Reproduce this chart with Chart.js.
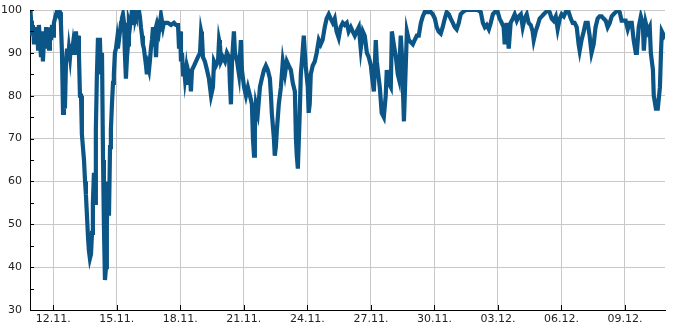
<!DOCTYPE html>
<html>
<head>
<meta charset="utf-8"/>
<style>
  html,body{margin:0;padding:0;background:#fff;}
  .wrap{width:685px;height:330px;}
</style>
</head>
<body>
<div class="wrap"><canvas id="c"></canvas></div>
<script src="https://cdn.jsdelivr.net/npm/chart.js@4.4.0/dist/chart.umd.min.js"></script>
<script>
// x in days since 12.11. 00:00
const days = [
  -1.10,-1.05,-1.01,-0.96,-0.91,-0.86,-0.82,-0.77,-0.72,-0.68,-0.63,-0.58,-0.53,-0.49,-0.44,-0.39,-0.34,-0.30,-0.25,-0.20,
  -0.16,-0.11,-0.06,-0.01,0.03,0.08,0.13,0.17,0.22,0.27,0.32,0.36,0.41,0.46,0.50,0.55,0.60,0.65,0.69,0.74,
  0.79,0.84,0.88,0.93,0.98,1.02,1.07,1.12,1.17,1.21,1.26,1.31,1.35,1.40,1.45,1.50,1.54,1.59,1.64,1.68,
  1.73,1.78,1.83,1.87,1.92,1.97,2.01,2.06,2.11,2.16,2.20,2.25,2.30,2.35,2.39,2.44,2.49,2.53,2.58,2.63,
  2.68,2.72,2.77,2.82,2.86,2.91,2.96,3.01,3.05,3.10,3.15,3.20,3.24,3.29,3.34,3.38,3.43,3.48,3.53,3.57,
  3.62,3.67,3.72,3.76,3.81,3.86,3.90,3.95,4.00,4.04,4.09,4.14,4.19,4.23,4.28,4.33,4.38,4.42,4.47,4.52,
  4.56,4.61,4.66,4.71,4.75,4.80,4.85,4.89,4.94,4.99,5.04,5.08,5.13,5.18,5.22,5.27,5.41,5.56,5.70,5.79,
  5.89,5.94,5.99,6.03,6.08,6.13,6.17,6.22,6.27,6.32,6.36,6.46,6.50,6.55,6.65,6.74,6.83,6.93,6.98,7.02,
  7.07,7.16,7.26,7.35,7.45,7.54,7.59,7.68,7.78,7.83,7.87,7.92,8.01,8.11,8.20,8.30,8.34,8.39,8.44,8.53,
  8.58,8.68,8.77,8.86,8.91,9.01,9.10,9.19,9.29,9.38,9.43,9.48,9.52,9.57,9.66,9.76,9.85,9.95,10.04,10.13,
  10.23,10.28,10.32,10.42,10.46,10.51,10.56,10.65,10.75,10.84,10.94,11.03,11.12,11.22,11.31,11.41,11.46,11.50,11.55,11.64,
  11.69,11.74,11.83,11.88,11.92,12.02,12.06,12.11,12.16,12.25,12.35,12.44,12.54,12.63,12.72,12.82,12.91,13.01,13.10,13.20,
  13.29,13.38,13.48,13.57,13.67,13.76,13.86,13.95,14.05,14.14,14.24,14.33,14.43,14.52,14.62,14.71,14.81,14.90,15.00,15.04,
  15.14,15.23,15.28,15.37,15.42,15.51,15.61,15.70,15.75,15.84,15.94,15.99,16.08,16.18,16.27,16.32,16.41,16.46,16.56,16.60,
  16.70,16.79,16.88,16.98,17.07,17.17,17.26,17.36,17.45,17.54,17.69,17.83,17.92,18.02,18.11,18.20,18.30,18.39,18.49,18.58,
  18.68,18.77,18.87,18.96,19.05,19.15,19.24,19.34,19.48,19.67,19.86,20.05,20.19,20.29,20.38,20.47,20.57,20.66,20.76,20.85,
  20.99,21.08,21.18,21.27,21.32,21.41,21.46,21.51,21.60,21.70,21.79,21.89,21.98,22.08,22.17,22.26,22.36,22.45,22.55,22.64,
  22.69,22.78,22.88,22.97,23.07,23.16,23.26,23.35,23.44,23.54,23.63,23.73,23.82,23.92,24.01,24.11,24.20,24.34,24.44,24.53,
  24.62,24.72,24.81,24.86,24.95,25.05,25.14,25.24,25.33,25.42,25.52,25.61,25.71,25.80,25.90,25.99,26.09,26.18,26.28,26.37,
  26.46,26.56,26.66,26.75,26.84,26.94,27.03,27.13,27.22,27.32,27.41,27.51,27.56,27.65,27.75,27.84,27.89,27.98,28.08,28.17,
  28.22,28.32,28.36,28.46,28.55,28.65,28.70,28.74,28.84,28.89
];
const values = [
  96,97.5,94,96.5,92,95,93,96,91,96.5,93,89,95,88,93,91,96,92,95,91,
  96,93,96.5,94,97,98,99,99.5,99,100,99.5,97,90,76,80,77,88,91,88,91,
  89,92,90,92,90,91,95,91,94,90,80,80,71,68,65,60,57,52,47,44,
  42,43,48,55,62,55,72,85,93.5,88,93.5,85,90,65,50,37,40,50,60,52,
  68,72,78,83,85,90,91,93,91,93,95,97,98,99,97,90,84,89,92,97,
  96,98,97,99,98,99,98.5,99.5,99,100,98.5,96,94,92,91,89,87,85,87,86,
  88,91,93,96,94,95,89,93,96,95,97,95,97.5,96,97,97,97,96.5,97,96.5,
  96.5,91,95,88,90,85,87,84,86,83,86,84,81,86,87,88,89,90,95,94,
  89,88,86,84,80,82,88,87,88,93,92,88,89,88,90,89,83,78,88,95,
  90,88,85,93,86,82,80,82,80,78,70,66,72,78,76,82,84,86,87,86,
  84,80,76,70,66,68,72,78,82,88,85,88,87,86,83,81,70,66,63,76,
  85,88,94,90,87,82,76,78,85,87,88,90,93,92,93,96,98,99,98,97,
  98,95,93.5,96,97,96.5,97,95,96,95,94,95,96,91,95,94,90,89,87,85,
  81,93,88,84,82,76,75,80,86,83,82,95,92,89,85,84,94,90,74,80,
  95,93,92.5,92,93,94,94,97,98.5,99.5,99.5,99.5,99,98,96,95,94.5,96,98,99.5,
  99,98,97,96,95.5,97,99,99.5,100,100,100,100,99.5,97,96,96.5,95.5,97,99,99.5,
  99.5,98,97,96,92,97,94,91,97,98,99,97.5,98.5,99,96,98,99,97,96.5,95,
  93,95,96.5,98,98.5,99,99.5,100,99.5,98,97.5,98.5,95.5,98,99,98.5,99.5,99.5,98,97,
  97,96,92,90.5,93,95,97,97,94,90,92,96,98,98.5,98.5,98,97.5,96,97,98.5,
  99,99.5,100,99.5,97.5,97.5,97.5,95.5,97,97,93,90,90,96,98.5,97,90.5,97,95,96,
  90,86,80,77,77,82,90,95,94,94.5
];
const tickDays   = [0, 3, 6, 9, 12, 15, 18, 21, 24, 27];
const tickLabels = ['12.11.','15.11.','18.11.','21.11.','24.11.','27.11.','30.11.','03.12.','06.12.','09.12.'];
const yMin = 30, yMax = 100;

const innerTicks = {
  id: 'innerTicks',
  afterDatasetsDraw(chart) {
    const { ctx, chartArea: a, scales: { x, y } } = chart;
    ctx.save();
    ctx.strokeStyle = '#000';
    ctx.lineWidth = 1;
    ctx.beginPath();
    for (let v = yMin; v <= yMax; v += 5) {
      const py = Math.round(y.getPixelForValue(v)) + 0.5;
      ctx.moveTo(a.left, py); ctx.lineTo(a.left + 4, py);
    }
    tickDays.forEach(d => {
      const px = Math.round(x.getPixelForValue(d)) + 0.5;
      ctx.moveTo(px, a.bottom); ctx.lineTo(px, a.bottom - 5);
    });
    ctx.stroke();
    ctx.restore();
  }
};

Chart.defaults.font.family = 'DejaVu Sans';
Chart.defaults.font.size = 11;
Chart.defaults.color = '#222';

new Chart(document.getElementById('c'), {
  type: 'line',
  data: {
    datasets: [{
      data: days.map((d, i) => ({ x: d, y: values[i] })),
      borderColor: '#0b5687',
      borderWidth: 4.2,
      pointRadius: 0,
      tension: 0,
      fill: false
    }]
  },
  options: {
    responsive: true, maintainAspectRatio: false, animation: false,
    layout: { padding: { top: 0, right: 20, bottom: 0, left: 0 } },
    plugins: { legend: { display: false }, tooltip: { enabled: false } },
    scales: {
      x: {
        type: 'linear', min: -1.10, max: 28.89,
        afterBuildTicks: s => { s.ticks = tickDays.map(v => ({ value: v })); },
        afterFit: s => { s.height = 20; },
        ticks: { autoSkip: false, maxRotation: 0, padding: 3,
                 callback: v => tickLabels[tickDays.indexOf(v)] ?? '' },
        grid: { color: '#c8c8c8', drawTicks: false },
        border: { color: '#000' }
      },
      y: {
        min: yMin, max: yMax,
        afterFit: s => { s.width = 30; s.paddingTop = 10; s.paddingBottom = 8; },
        ticks: { stepSize: 10, padding: 8 },
        grid: { color: '#c8c8c8', drawTicks: false },
        border: { color: '#000' }
      }
    }
  },
  plugins: [innerTicks]
});
</script>
</body>
</html>
